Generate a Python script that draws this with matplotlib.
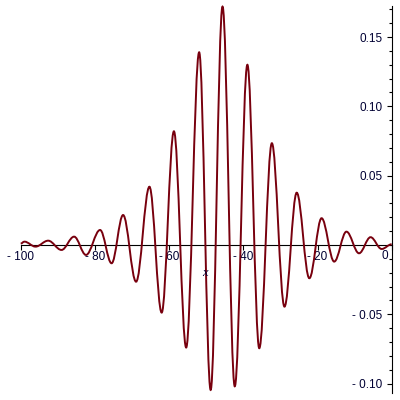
import numpy as np
import matplotlib
matplotlib.use('Agg')
import matplotlib.pyplot as plt
from matplotlib.path import Path
from matplotlib.patches import PathPatch

# turning points of the curve (x, y), ends included
turn_x = [-100.0, -99.0, -96.0, -92.6, -89.0, -85.6, -82.4, -78.6, -75.5, -72.4,
          -68.9, -65.3, -62.0, -58.7, -55.4, -51.9, -48.8, -45.6, -42.3, -38.9,
          -35.7, -32.3, -28.9, -25.6, -22.2, -18.9, -15.5, -12.2, -8.8, -5.7,
          -2.7, 0.0]
turn_y = [0.0010, 0.0024, -0.0012, 0.0031, -0.0036, 0.0060, -0.0072, 0.0108,
          -0.0132, 0.0216, -0.0265, 0.0420, -0.0488, 0.0820, -0.0740, 0.1390,
          -0.1046, 0.1720, -0.1020, 0.1300, -0.0745, 0.0734, -0.0445, 0.0377,
          -0.0240, 0.0193, -0.0120, 0.0096, -0.0060, 0.0056, -0.0029, 0.0005]

xtick_vals = [-100, -80, -60, -40, -20]
xtick_labels = ['- 100', '- 80', '- 60', '- 40', '- 20']
ytick_vals = [-0.10, -0.05, 0.05, 0.10, 0.15]
ytick_labels = ['- 0.10', '- 0.05', '0.05', '0.10', '0.15']

curve_color = '#78000E'
text_color = '#000033'
tick_font = 'Liberation Sans'

fig = plt.figure(figsize=(4, 4), dpi=100)
ax = fig.add_axes([20.7/400, 7/400, 371/400, 387/400])
ax.set_xlim(-100, 0)
ax.set_ylim(-0.1068, 0.1724)

# smooth curve through the turning points, flat tangent at each one
k = 0.3642
verts = [(turn_x[0], turn_y[0])]
codes = [Path.MOVETO]
for i in range(1, len(turn_x)):
    dx = turn_x[i] - turn_x[i-1]
    verts += [(turn_x[i-1] + k*dx, turn_y[i-1]),
              (turn_x[i] - k*dx, turn_y[i]),
              (turn_x[i], turn_y[i])]
    codes += [Path.CURVE4]*3
ax.add_patch(PathPatch(Path(verts, codes), fill=False, edgecolor=curve_color,
                       linewidth=1.4, zorder=3, clip_on=False))

# axes through the origin
for s in ['top', 'right']:
    ax.spines[s].set_visible(False)
ax.spines['left'].set_position(('data', 0))
ax.spines['bottom'].set_position(('data', 0))
ax.spines['left'].set_linewidth(0.8)
ax.spines['bottom'].set_linewidth(0.8)

ax.set_xticks(xtick_vals + [0])
ax.set_xticklabels(xtick_labels + [''], fontsize=8.5, family=tick_font,
                   color=text_color)
ax.set_yticks(ytick_vals)
ax.set_yticklabels(ytick_labels, fontsize=8.5, family=tick_font,
                   color=text_color)
ax.set_yticks(np.arange(-0.10, 0.175, 0.01), minor=True)
ax.tick_params(axis='x', direction='out', length=3.5, width=0.8, pad=1)
ax.tick_params(axis='y', which='major', direction='out', length=3.6,
               width=0.8, pad=3)
ax.tick_params(axis='y', which='minor', direction='out', length=2.4,
               width=0.8)

ax.text(-1.9, -0.0035, '0', ha='center', va='top', fontsize=8.5,
        family=tick_font, color=text_color)
ax.text(-50.3, -0.0202, 'x', ha='center', va='center', fontsize=9,
        family='Liberation Serif', style='italic', color=text_color)

fig.savefig('out.png', dpi=100, facecolor='white')
